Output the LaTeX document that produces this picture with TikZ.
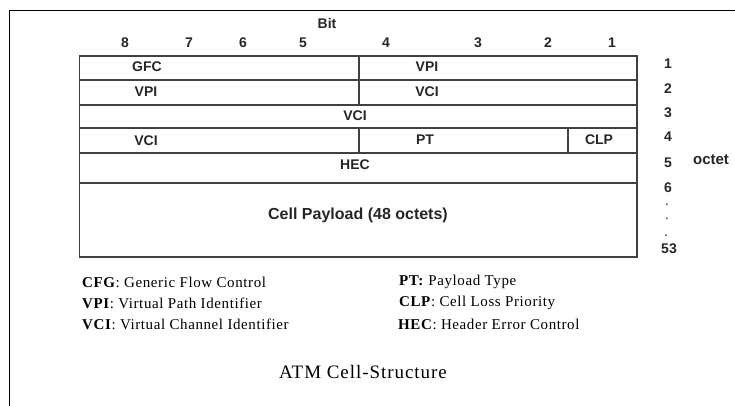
\documentclass[tikz,border=0pt]{standalone}
\usepackage{fontspec}
\setmainfont{Liberation Serif}
\newfontfamily\arial{Liberation Sans}
\newfontfamily\legfont[LetterSpace=4]{Liberation Serif}
\newfontfamily\titfont[LetterSpace=5]{Liberation Serif}
\begin{document}
\begin{tikzpicture}[x=1pt,y=-1pt,
  tbl/.style={font=\arial\bfseries\fontsize{14}{16}\selectfont, inner sep=0pt, text=black!85},
  leg/.style={font=\legfont\fontsize{15}{17}\selectfont, inner sep=0pt, anchor=west},
  grid/.style={draw=black!75, line width=1.2pt},
  frame/.style={draw=black, line width=1pt}]
\useasboundingbox (0,0) rectangle (735,406);
% outer frame
\draw[frame] (9,406) -- (9,11) -- (735,11);
% table
\draw[grid] (79.5,56) rectangle (637,257);
\foreach \y in {80,105,128,153,183} \draw[grid] (79.5,\y) -- (637,\y);
\draw[grid] (359,56) -- (359,105);
\draw[grid] (359,128) -- (359,153);
\draw[grid] (568,128) -- (568,153);
% bit labels
\node[tbl] (bit) at (327,23) {Bit};
\node[tbl] (b8) at (125,43) {8};
\node[tbl] (b7) at (189,43) {7};
\node[tbl] (b6) at (243,43) {6};
\node[tbl] (b5) at (303,43) {5};
\node[tbl] (b4) at (386,43) {4};
\node[tbl] (b3) at (478,43) {3};
\node[tbl] (b2) at (548,43) {2};
\node[tbl] (b1) at (612,43) {1};
% fields
\node[tbl] (gfc) at (147,67) {GFC};
\node[tbl] (vpi1) at (427,67) {VPI};
\node[tbl] (vpi2) at (146,92) {VPI};
\node[tbl] (vci1) at (427,92) {VCI};
\node[tbl] (vci2) at (355,116) {VCI};
\node[tbl] (vci3) at (146,141) {VCI};
\node[tbl] (pt) at (425,140) {PT};
\node[tbl] (clp) at (599,140) {CLP};
\node[tbl] (hec) at (355,165) {HEC};
\node[tbl, font=\arial\bfseries\fontsize{16}{18}\selectfont] (pay) at (358,215) {Cell Payload (48 octets)};
% octet numbers
\node[tbl] (o1) at (668,64) {1};
\node[tbl] (o2) at (668,89) {2};
\node[tbl] (o3) at (668,113) {3};
\node[tbl] (o4) at (668,137) {4};
\node[tbl] (o5) at (668,163) {5};
\node[tbl] (o6) at (668,188) {6};
\node[tbl, font=\arial\bfseries\fontsize{10}{12}\selectfont] (od1) at (667,205) {.};
\node[tbl, font=\arial\bfseries\fontsize{10}{12}\selectfont] (od2) at (667,219) {.};
\node[tbl, font=\arial\bfseries\fontsize{10}{12}\selectfont] (od3) at (666,236) {.};
\node[tbl] (o53) at (669,249) {53};
\node[tbl, font=\arial\bfseries\fontsize{15}{17}\selectfont] (oct) at (711,160) {octet};
% legend
\node[leg] (l1) at (82,282) {\textbf{CFG}: Generic Flow Control};
\node[leg] (l2) at (82,303) {\textbf{VPI}: Virtual Path Identifier};
\node[leg] (l3) at (82,324) {\textbf{VCI}: Virtual Channel Identifier};
\node[leg] (l4) at (399,282) {\textbf{PT:} Payload Type};
\node[leg] (l5) at (399,303) {\textbf{CLP}: Cell Loss Priority};
\node[leg] (l6) at (398,324) {\textbf{HEC}: Header Error Control};
\node[font=\titfont\fontsize{19}{21}\selectfont, inner sep=0pt] (title) at (363,372) {ATM Cell-Structure};
\end{tikzpicture}
\end{document}
